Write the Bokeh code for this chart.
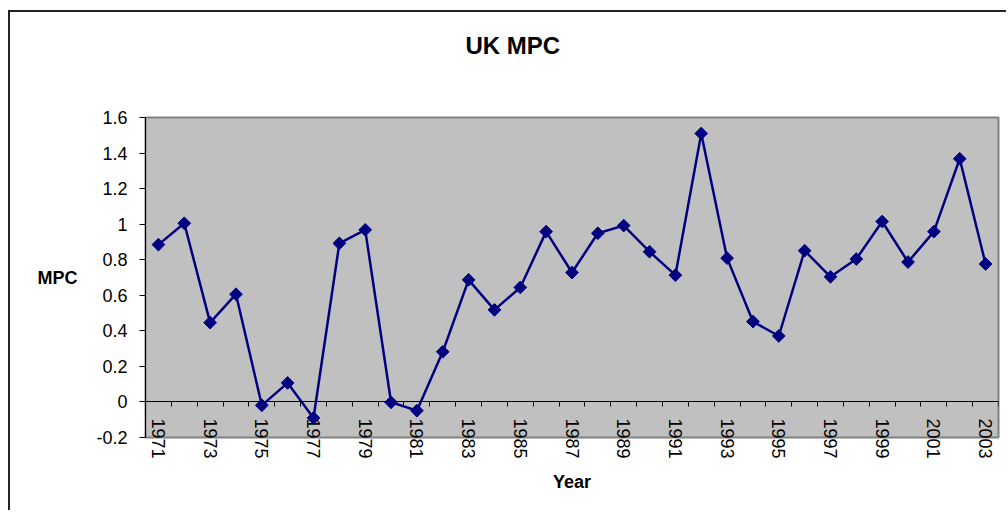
import math

from bokeh.embed import file_html
from bokeh.models import CustomJSTickFormatter, FixedTicker, LinearAxis, Range1d
from bokeh.plotting import figure
from bokeh.resources import INLINE

# Marginal propensity to consume, UK, by year
years = list(range(1971, 2004))
mpc = [0.885, 1.005, 0.446, 0.606, -0.019, 0.107, -0.090, 0.892, 0.968,
       -0.002, -0.049, 0.282, 0.687, 0.518, 0.644, 0.958, 0.728, 0.949,
       0.992, 0.845, 0.713, 1.510, 0.809, 0.452, 0.371, 0.851, 0.704,
       0.804, 1.015, 0.787, 0.958, 1.368, 0.776]

y_ticks = [-0.2, 0.0, 0.2, 0.4, 0.6, 0.8, 1.0, 1.2, 1.4, 1.6]
year_labels = years[::2]

FONT = "Liberation Sans"
NAVY = "#000080"

# the chart sits inside a thin dark border drawn by the page element
p = figure(width=998, height=500, output_backend="svg", toolbar_location=None,
           x_range=Range1d(years[0] - 0.5, years[-1] + 0.5),
           y_range=Range1d(y_ticks[0], y_ticks[-1]),
           x_axis_type=None,
           min_border_left=135, min_border_right=10,
           min_border_top=105, min_border_bottom=75,
           margin=(10, 0, 0, 8),
           styles={"border-left": "2px solid #222", "border-top": "2px solid #222"})

p.background_fill_color = "#C0C0C0"
p.border_fill_color = "white"
p.outline_line_color = "#808080"
p.outline_line_width = 2
p.xgrid.visible = False
p.ygrid.visible = False

# title
p.title.text = "UK MPC"
p.title.align = "left"
p.title.vertical_align = "bottom"
p.title.offset = 320
p.title.standoff = 34
p.title.text_font = FONT
p.title.text_font_style = "bold"
p.title.text_font_size = "24px"
p.title.text_color = "black"

# blank top axis keeping white space between the title and the plot area
gap_axis = LinearAxis(ticker=FixedTicker(ticks=[years[0]]),
                      formatter=CustomJSTickFormatter(code="return ''"))
gap_axis.axis_line_color = None
gap_axis.major_tick_line_color = None
gap_axis.minor_tick_line_color = None
gap_axis.major_tick_in = 0
gap_axis.major_tick_out = 42
gap_axis.major_label_standoff = 0
gap_axis.major_label_text_font_size = "0px"
p.add_layout(gap_axis, "above")

# value axis
ya = p.yaxis[0]
ya.ticker = FixedTicker(ticks=y_ticks)
ya.formatter = CustomJSTickFormatter(code="return String(Math.round(tick * 10) / 10)")
ya.axis_line_color = "black"
ya.major_tick_line_color = "black"
ya.major_tick_out = 6
ya.major_tick_in = 0
ya.minor_tick_line_color = None
ya.major_label_standoff = 12
ya.major_label_text_font = FONT
ya.major_label_text_font_size = "18px"
ya.major_label_text_color = "black"
ya.axis_label = "MPC"
ya.axis_label_orientation = "horizontal"
ya.axis_label_standoff = 16
ya.axis_label_text_font = FONT
ya.axis_label_text_font_style = "bold"
ya.axis_label_text_font_size = "18px"
ya.axis_label_text_color = "black"

# category axis crossing at zero: tick marks between years
bounds = [y - 0.5 for y in years] + [years[-1] + 0.5]
x_ticks_axis = LinearAxis(fixed_location=0,
                          ticker=FixedTicker(ticks=bounds),
                          formatter=CustomJSTickFormatter(code="return ''"))
x_ticks_axis.axis_line_color = "black"
x_ticks_axis.major_tick_line_color = "black"
x_ticks_axis.major_tick_out = 5
x_ticks_axis.major_tick_in = 0
x_ticks_axis.minor_tick_line_color = None
p.add_layout(x_ticks_axis, "below")

# year labels on every other category, pulled up just under the zero line
x_label_axis = LinearAxis(ticker=FixedTicker(ticks=year_labels),
                          formatter=CustomJSTickFormatter(code="return String(tick)"))
x_label_axis.axis_line_color = None
x_label_axis.major_tick_line_color = None
x_label_axis.minor_tick_line_color = None
x_label_axis.major_tick_out = 0
x_label_axis.major_tick_in = 0
x_label_axis.major_label_orientation = "vertical"
x_label_axis.major_label_standoff = -19
x_label_axis.major_label_text_font = FONT
x_label_axis.major_label_text_font_size = "18px"
x_label_axis.major_label_text_color = "black"
x_label_axis.axis_label = "Year"
x_label_axis.axis_label_standoff = 10
x_label_axis.axis_label_text_font = FONT
x_label_axis.axis_label_text_font_style = "bold"
x_label_axis.axis_label_text_font_size = "18px"
x_label_axis.axis_label_text_color = "black"
p.add_layout(x_label_axis, "below")

# series
p.line(years, mpc, line_color=NAVY, line_width=2.5)
p.scatter(years, mpc, marker="square", angle=math.pi / 4, size=9,
          fill_color=NAVY, line_color=NAVY, line_width=1)

open("out.html", "w").write(file_html(p, INLINE))
